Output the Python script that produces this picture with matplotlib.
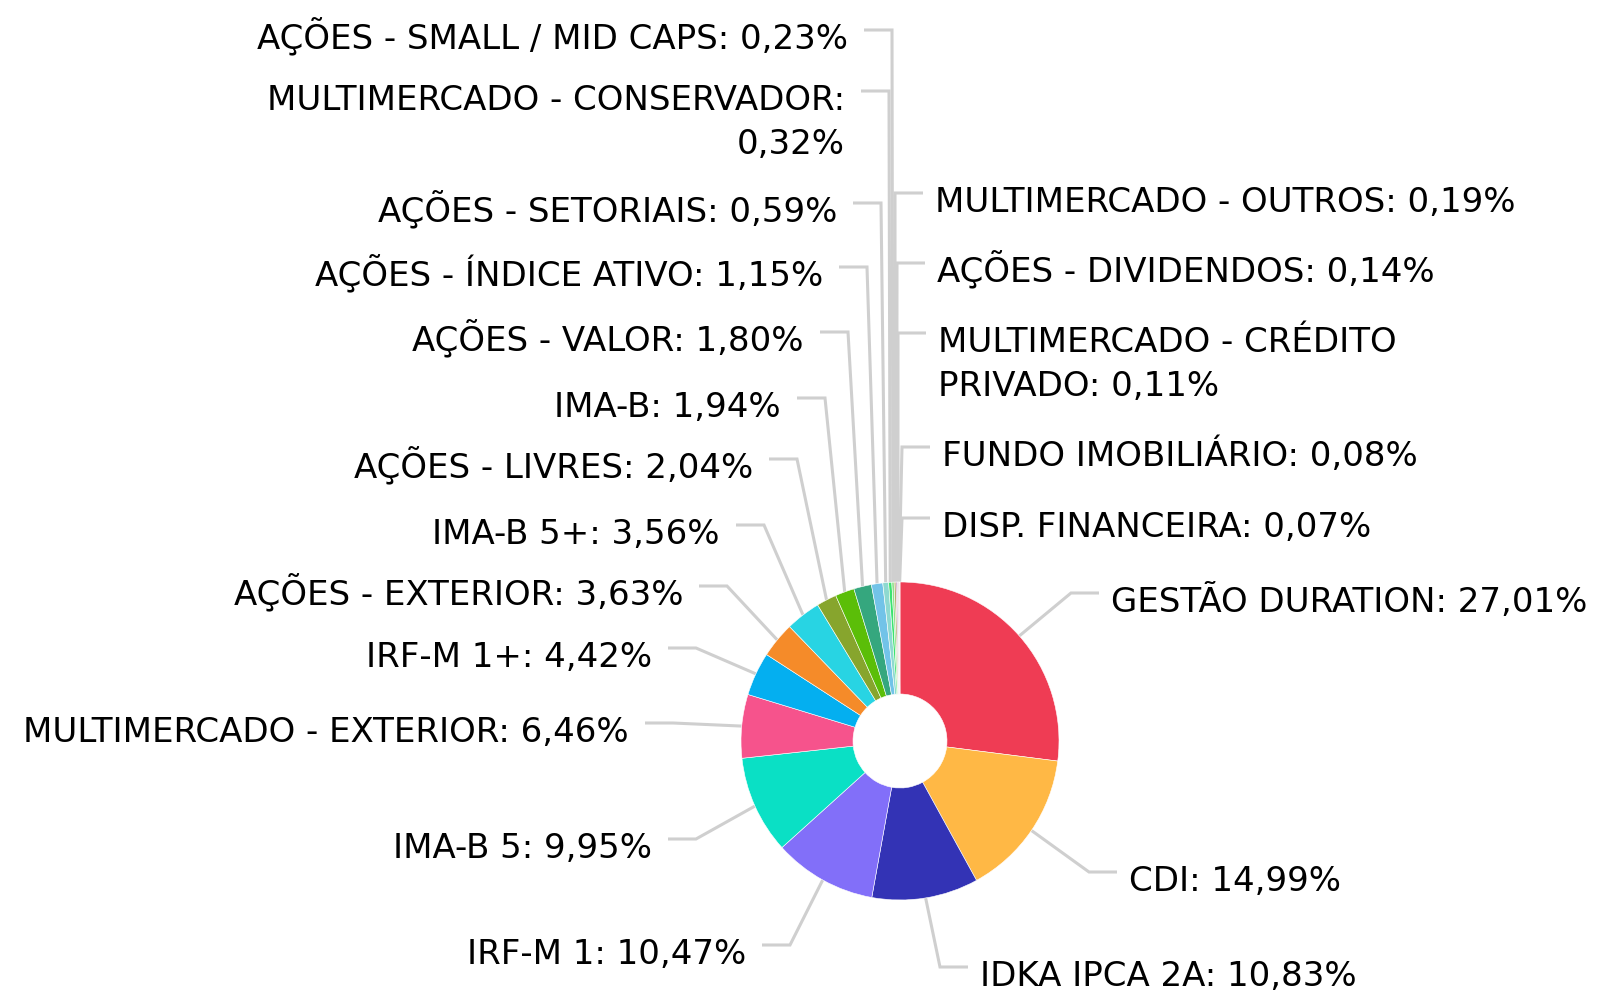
import numpy as np
import matplotlib.pyplot as plt

# data (slices clockwise from 12 o'clock)
categories = ['GESTÃO DURATION', 'CDI', 'IDKA IPCA 2A', 'IRF-M 1', 'IMA-B 5',
              'MULTIMERCADO - EXTERIOR', 'IRF-M 1+', 'AÇÕES - EXTERIOR', 'IMA-B 5+',
              'AÇÕES - LIVRES', 'IMA-B', 'AÇÕES - VALOR', 'AÇÕES - ÍNDICE ATIVO',
              'AÇÕES - SETORIAIS', 'MULTIMERCADO - CONSERVADOR', 'AÇÕES - SMALL / MID CAPS',
              'MULTIMERCADO - OUTROS', 'AÇÕES - DIVIDENDOS', 'MULTIMERCADO - CRÉDITO PRIVADO',
              'FUNDO IMOBILIÁRIO', 'DISP. FINANCEIRA']
values = [27.01, 14.99, 10.83, 10.47, 9.95, 6.46, 4.42, 3.63, 3.56, 2.04, 1.94,
          1.80, 1.15, 0.59, 0.32, 0.23, 0.19, 0.14, 0.11, 0.08, 0.07]
colors = ['#EF3C54', '#FFB845', '#3333B5', '#826FF9', '#0AE0C5', '#F6538C',
          '#04AFF0', '#F58B29', '#28D4E3', '#87A52D', '#5BBE08', '#35A77E',
          '#72C3E8', '#8ED9D0', '#3BE36F', '#8FE08A', '#B5B070', '#B58CC0',
          '#C2A0AC', '#B0A0A8', '#D08898']

# label layout in pixels: elbow x, connector y, side
label_layout = [(1071, 593, 'R'), (1089, 872, 'R'), (940, 967, 'R'),
                (790, 945, 'L'), (696, 839, 'L'), (673, 723, 'L'), (696, 648, 'L'),
                (727, 586, 'L'), (764, 525, 'L'), (797, 459, 'L'), (825, 398, 'L'),
                (848, 332, 'L'), (867, 267, 'L'), (881, 203, 'L'), (889, 91, 'L'),
                (892, 30, 'L'),
                (895, 193, 'R'), (897, 263, 'R'), (898, 333, 'R'), (902, 447, 'R'),
                (902, 518, 'R')]
wrap_after = {14: 'CONSERVADOR:', 18: 'CRÉDITO'}

W, H = 1597, 990
cx, cy, r_out, r_in = 900, 741, 159, 47

fig = plt.figure(figsize=(W / 100, H / 100), dpi=100)
ax = fig.add_axes([0, 0, 1, 1])

# y axis is inverted (pixel coords), so startangle=-90 + counterclock=True
# gives a clockwise pie starting at 12 o'clock on screen
wedges, _ = ax.pie(values, colors=colors, startangle=-90, counterclock=True,
                   radius=r_out, center=(cx, cy),
                   wedgeprops=dict(width=r_out - r_in, edgecolor='white', linewidth=0.4))
for w in wedges:
    w.set_zorder(3)

ax.set_xlim(0, W)
ax.set_ylim(H, 0)
ax.set_aspect('equal')
ax.axis('off')

fs = 34 * 72 / 100
line_col = '#cfcfcf'

for i, (w, (ex, ly, side)) in enumerate(zip(wedges, label_layout)):
    mid = np.deg2rad((w.theta1 + w.theta2) / 2)
    px = cx + r_out * np.cos(mid)
    py = cy + r_out * np.sin(mid)
    sgn = -1 if side == 'L' else 1
    ax.plot([ex + sgn * 28, ex, px], [ly, ly, py], color=line_col, lw=2.2,
            solid_capstyle='butt', solid_joinstyle='miter', zorder=1)

    pct = f"{values[i]:.2f}".replace('.', ',')
    txt = f"{categories[i]}: {pct}%"
    if i in wrap_after:
        k = txt.index(wrap_after[i]) + len(wrap_after[i])
        lines = [txt[:k], txt[k + 1:]]
    else:
        lines = [txt]
    tx = ex - 44 if side == 'L' else ex + 40
    for j, s in enumerate(lines):
        ax.text(tx, ly + 19 + 44 * j, s, fontsize=fs, color='#000000',
                ha='right' if side == 'L' else 'left', va='baseline', zorder=4)

fig.savefig('out.png', dpi=100, facecolor='white')
